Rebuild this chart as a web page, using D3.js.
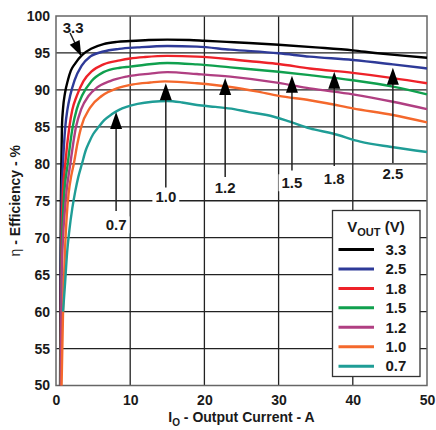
<!DOCTYPE html>
<html>
<head>
<meta charset="utf-8">
<script src="https://cdn.jsdelivr.net/npm/d3@7"></script>
<style>
  html, body { margin: 0; padding: 0; background: #fff; }
  svg { display: block; font-family: "Liberation Sans", Arial, sans-serif; }
</style>
</head>
<body>
<svg id="chart" width="436" height="430"></svg>
<script>
// ---- data (output current A, efficiency %) ----
const seriesNames = ["3.3", "2.5", "1.8", "1.5", "1.2", "1.0", "0.7"];
const seriesColors = ["#000000", "#2e3a98", "#ee2229", "#10a04e", "#b03f82", "#f4682c", "#1f9d96"];

const eff33 = [[0.55,50],[0.6,65],[0.66,75],[0.72,80],[0.8,85],[0.95,87.5],[1.2,89.5],[1.6,91.3],[2.0,92.6],[2.6,93.6],[3.5,94.7],[4.8,95.6],[6.4,96.2],[8.2,96.5],[10,96.62],[12.5,96.75],[15,96.8],[18,96.75],[20,96.65],[23,96.5],[26,96.35],[30,96.1],[35,95.75],[40,95.35],[43,95.0],[46,94.7],[50,94.35]];
const eff25 = [[0.58,50],[0.64,65],[0.74,75],[0.94,80],[1.25,85],[1.55,87.4],[1.93,89.3],[2.5,91.3],[3.46,93.3],[4.6,94.5],[6.4,95.2],[8.5,95.55],[11,95.75],[15,95.95],[19,95.85],[23.5,95.45],[30,94.95],[34.2,94.5],[40,94.05],[45.4,93.45],[50,92.9]];
const eff18 = [[0.6,50],[0.68,65],[0.88,75],[1.25,80],[1.8,85],[2.2,87.3],[2.8,89.2],[3.7,91.2],[4.8,92.5],[6.4,93.45],[8.6,94.0],[10,94.25],[12,94.45],[15,94.6],[19,94.5],[23.5,94.15],[27,93.8],[30,93.5],[34.2,92.9],[40,92.3],[45.4,91.6],[50,90.9]];
const eff15 = [[0.62,50],[0.72,65],[1.05,75],[1.58,80],[2.25,85],[2.8,87.4],[3.5,89.2],[4.8,91.2],[6.4,92.4],[8.6,93.0],[10,93.15],[12,93.4],[15,93.65],[19,93.45],[23.5,93.05],[30,92.45],[34.2,92.0],[40,91.3],[45.4,90.45],[50,89.4]];
const eff12 = [[0.65,50],[0.75,65],[1.3,75],[1.93,80],[2.7,85],[3.4,87.4],[4.4,89.2],[5.5,90.3],[7.3,91.2],[9.5,91.8],[12.7,92.2],[15,92.4],[19,92.15],[23.5,91.8],[30,90.95],[34.2,90.2],[40,89.4],[45.4,88.4],[50,87.4]];
const eff10 = [[0.75,50],[0.95,60],[1.2,68],[1.45,73],[1.7,76],[2.06,78.4],[2.4,80],[2.9,82.8],[3.4,85],[4.6,87.6],[6.2,89.2],[8.2,90.2],[10.4,90.75],[12.7,91.0],[14.7,91.15],[19,90.9],[23.5,90.4],[27,89.8],[30,89.2],[34.2,88.6],[36.5,88.2],[40,87.5],[45.4,86.6],[50,85.6]];
const eff07 = [[0.95,60],[1.2,63.5],[1.5,68],[1.8,71],[2.2,74],[2.6,76.3],[3.0,78.2],[3.5,80],[4.0,81.8],[4.5,83.0],[5.0,84.0],[5.75,85],[6.5,85.9],[7.5,86.7],[8.5,87.3],[9.5,87.7],[11,88.1],[13,88.4],[15,88.5],[17,88.3],[19,87.95],[21.5,87.7],[24,87.4],[26,87.0],[28.4,86.6],[31.5,85.7],[34.2,84.8],[37.3,84.1],[41,83.0],[45,82.3],[50,81.6]];
const seriesData = [eff33, eff25, eff18, eff15, eff12, eff10, eff07];

const currentTicks = [0, 10, 20, 30, 40, 50];
const effTicks = [50, 55, 60, 65, 70, 75, 80, 85, 90, 95, 100];

// annotation labels: label, arrow x (A), arrow tip (%), arrow tail (%), label y (%)
const annoLabels = ["0.7", "1.0", "1.2", "1.5", "1.8", "2.5"];
const annoX      = [8.1, 14.8, 22.8, 31.8, 37.5, 45.4];
const annoTip    = [87.0, 90.9, 91.6, 91.9, 92.45, 93.0];
const annoTail   = [73.6, 76.8, 78.2, 79.1, 79.7, 80.1];
const annoTextY  = [71.7, 75.5, 76.7, 77.4, 78.0, 78.6];
// 3.3 label with a slanted arrow: [text x, text y], [tail x, tail y], [tip x, tip y]
const anno33 = { label: "3.3", text: [2.3, 98.45], tail: [1.9, 97.7], tip: [3.4, 94.6] };

// ---- drawing ----
const svg = d3.select("#chart");
const x = d3.scaleLinear().domain([0, 50]).range([56, 427]);
const y = d3.scaleLinear().domain([50, 100]).range([385.5, 16]);
const FONT = "bold 14px 'Liberation Sans', Arial, sans-serif";

// grid
const grid = svg.append("g");
grid.selectAll("line.v").data(currentTicks.slice(1, -1)).enter().append("line")
  .attr("x1", d => x(d)).attr("x2", d => x(d)).attr("y1", y(50)).attr("y2", y(100))
  .attr("stroke", "#222").attr("stroke-width", 1.3);
grid.selectAll("line.h").data(effTicks.slice(1, -1)).enter().append("line")
  .attr("y1", d => y(d)).attr("y2", d => y(d)).attr("x1", x(0)).attr("x2", x(50))
  .attr("stroke", "#222").attr("stroke-width", 1.3);

// frame
svg.append("rect").attr("x", x(0)).attr("y", y(100))
  .attr("width", x(50) - x(0)).attr("height", y(50) - y(100))
  .attr("fill", "none").attr("stroke", "#666").attr("stroke-width", 1.5);

// axes (labels only)
const xAxis = d3.axisBottom(x).tickValues(currentTicks).tickSize(0).tickPadding(10).tickFormat(d3.format("d"));
const gx = svg.append("g").attr("transform", `translate(0,${y(50)})`).call(xAxis);
gx.select(".domain").remove();
gx.selectAll("text").style("font", FONT).attr("fill", "#1a1a1a");

const yAxis = d3.axisLeft(y).tickValues(effTicks).tickSize(0).tickPadding(6).tickFormat(d3.format("d"));
const gy = svg.append("g").attr("transform", `translate(${x(0)},0)`).call(yAxis);
gy.select(".domain").remove();
gy.selectAll("text").style("font", FONT).attr("fill", "#1a1a1a");

// axis titles
const xt = svg.append("text").attr("x", (x(0) + x(50)) / 2).attr("y", 422)
  .attr("text-anchor", "middle").style("font", FONT).attr("fill", "#1a1a1a");
xt.append("tspan").text("I");
xt.append("tspan").attr("dy", 4).style("font-size", "10px").text("O");
xt.append("tspan").attr("dy", -4).text(" - Output Current - A");

const yt = svg.append("text")
  .attr("transform", `translate(20,${(y(50) + y(100)) / 2}) rotate(-90)`)
  .attr("text-anchor", "middle").style("font", FONT).attr("fill", "#1a1a1a");
yt.append("tspan").style("font-weight", "normal").text("η");
yt.append("tspan").text(" - Efficiency - %");

// curves
const line = d3.line().x(d => x(d[0])).y(d => y(d[1])).curve(d3.curveMonotoneX);
const curves = svg.append("g");
seriesData.forEach((s, i) => {
  curves.append("path").datum(s).attr("d", line)
    .attr("fill", "none").attr("stroke", seriesColors[i])
    .attr("stroke-width", 2.4).attr("stroke-linejoin", "round");
});

// annotations
const ann = svg.append("g");
function arrowHead(tx, ty, fx, fy, len, half) {
  const dx = tx - fx, dy = ty - fy, L = Math.hypot(dx, dy);
  const ux = dx / L, uy = dy / L;
  const bx = tx - ux * len, by = ty - uy * len;
  return `M${tx},${ty}L${bx - uy * half},${by + ux * half}L${bx + uy * half},${by - ux * half}Z`;
}
annoLabels.forEach((lab, i) => {
  const ax = x(annoX[i]);
  ann.append("line").attr("x1", ax).attr("x2", ax)
    .attr("y1", y(annoTip[i]) + 10).attr("y2", y(annoTail[i]))
    .attr("stroke", "#222").attr("stroke-width", 1.5);
  ann.append("path").attr("d", arrowHead(ax, y(annoTip[i]), ax, y(annoTail[i]), 17, 6))
    .attr("fill", "#000");
  const t = ann.append("text").attr("x", ax).attr("y", y(annoTextY[i]))
    .attr("text-anchor", "middle").attr("dy", "0.35em")
    .style("font", FONT).style("font-size", "15px").attr("fill", "#1a1a1a").text(lab);
  const bb = t.node().getBBox();
  ann.insert("rect", () => t.node())
    .attr("x", bb.x - 3).attr("y", bb.y).attr("width", bb.width + 6).attr("height", bb.height)
    .attr("fill", "#fff");
});
{
  const [tx, ty] = [x(anno33.tip[0]), y(anno33.tip[1])];
  const [fx, fy] = [x(anno33.tail[0]), y(anno33.tail[1])];
  ann.append("line").attr("x1", fx).attr("y1", fy).attr("x2", tx).attr("y2", ty)
    .attr("stroke", "#222").attr("stroke-width", 1.5);
  ann.append("path").attr("d", arrowHead(tx, ty, fx, fy, 15, 5.5)).attr("fill", "#000");
  ann.append("text").attr("x", x(anno33.text[0])).attr("y", y(anno33.text[1]))
    .attr("text-anchor", "middle").attr("dy", "0.35em")
    .style("font", FONT).style("font-size", "15px").attr("fill", "#1a1a1a").text(anno33.label);
}

// legend
const lg = svg.append("g");
lg.append("rect").attr("x", 332.5).attr("y", 210.5).attr("width", 87.5).attr("height", 166)
  .attr("fill", "#fff").attr("stroke", "#333").attr("stroke-width", 1.3);
const lt = lg.append("text").attr("x", 376).attr("y", 232).attr("text-anchor", "middle")
  .style("font", FONT).style("font-size", "15px").attr("fill", "#1a1a1a");
lt.append("tspan").text("V");
lt.append("tspan").attr("dy", 4).style("font-size", "11px").text("OUT");
lt.append("tspan").attr("dy", -4).text(" (V)");
seriesNames.forEach((n, i) => {
  const yy = 249.5 + i * 19.45;
  lg.append("line").attr("x1", 338.5).attr("x2", 374).attr("y1", yy).attr("y2", yy)
    .attr("stroke", seriesColors[i]).attr("stroke-width", 3);
  lg.append("text").attr("x", 385.5).attr("y", yy).attr("dy", "0.35em")
    .style("font", FONT).style("font-size", "15px").attr("fill", "#1a1a1a").text(n);
});
</script>
</body>
</html>
